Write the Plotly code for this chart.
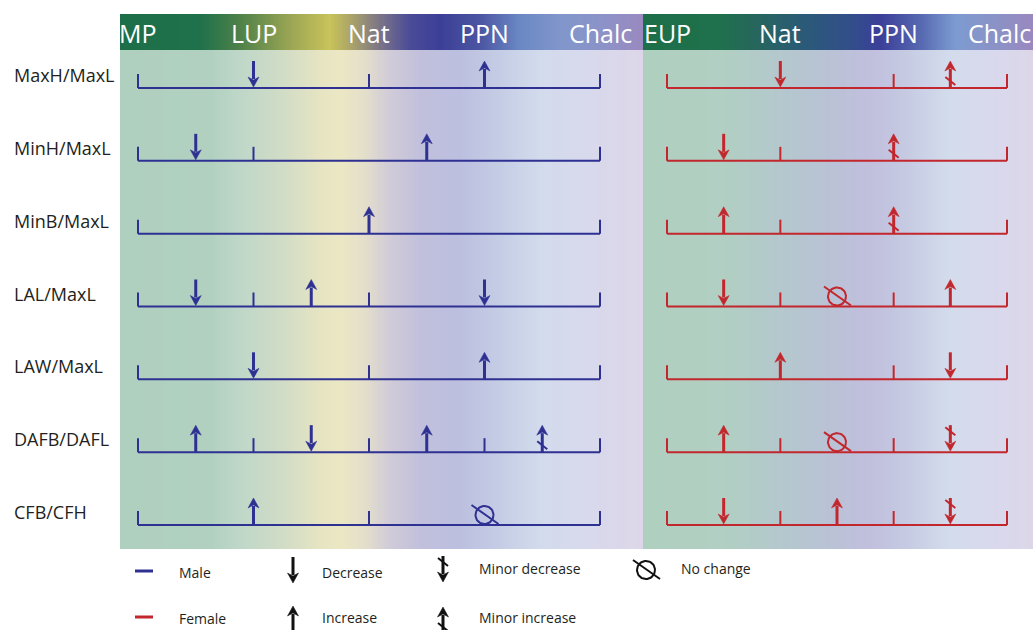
import numpy as np
import plotly.graph_objects as go

# ---------------- data ----------------
ratios = ["MaxH/MaxL", "MinH/MaxL", "MinB/MaxL", "LAL/MaxL",
          "LAW/MaxL", "DAFB/DAFL", "CFB/CFH"]
male_periods = ["MP", "LUP", "Nat", "PPN", "Chalc"]
female_periods = ["EUP", "Nat", "PPN", "Chalc"]

# (from period index, to period index, change)
male_changes = [
    [(0, 2, "decrease"), (2, 4, "increase")],
    [(0, 1, "decrease"), (1, 4, "increase")],
    [(0, 4, "increase")],
    [(0, 1, "decrease"), (1, 2, "increase"), (2, 4, "decrease")],
    [(0, 2, "decrease"), (2, 4, "increase")],
    [(0, 1, "increase"), (1, 2, "decrease"), (2, 3, "increase"), (3, 4, "minor increase")],
    [(0, 2, "increase"), (2, 4, "no change")],
]
female_changes = [
    [(0, 2, "decrease"), (2, 3, "minor increase")],
    [(0, 1, "decrease"), (1, 3, "minor increase")],
    [(0, 1, "increase"), (1, 3, "minor increase")],
    [(0, 1, "decrease"), (1, 2, "no change"), (2, 3, "increase")],
    [(0, 2, "increase"), (2, 3, "decrease")],
    [(0, 1, "increase"), (1, 2, "no change"), (2, 3, "minor decrease")],
    [(0, 1, "decrease"), (1, 2, "increase"), (2, 3, "minor decrease")],
]
sex_labels = ["Male", "Female"]
legend_rows = [["decrease", "minor decrease", "no change"],
               ["increase", "minor increase"]]
legend_texts = {"decrease": "Decrease", "increase": "Increase",
                "minor decrease": "Minor decrease", "minor increase": "Minor increase",
                "no change": "No change"}

# ---------------- geometry / style ----------------
W, H = 1033, 630
ROW_FIRST, ROW_LAST = 88, 525
HEADER_TOP, HEADER_BOT, BODY_BOT = 14, 50, 549
ys = (ROW_LAST - ROW_FIRST) / (len(ratios) - 1)
MALE_COL, FEMALE_COL = "#2e3192", "#c1272d"
FONT = "Open Sans"
TXT = "#231f20"

panels = {
    "x": dict(p0=120, p1=643, first=138, last=600, periods=male_periods,
              changes=male_changes, color=MALE_COL,
              head_stops=[(120, "#1d6f4a"), (200, "#1f714b"), (240, "#4f8148"), (290, "#9aa553"),
                          (330, "#c9c35a"), (355, "#a59e6e"), (380, "#7b7488"), (410, "#4a4b97"),
                          (440, "#3c3f97"), (480, "#4b55a2"), (520, "#6a88c4"), (560, "#8196cb"),
                          (600, "#8b93c8"), (643, "#9a89c0")],
              body_stops=[(120, "#afcfbf"), (210, "#b1d0c0"), (240, "#bfd7c8"), (280, "#d0dcc6"),
                          (320, "#e6e4c2"), (340, "#ece7c3"), (365, "#e4dfcb"), (390, "#d0cbd8"),
                          (420, "#c1c0dc"), (460, "#bcbfdf"), (500, "#c5cde5"), (540, "#d2dbec"),
                          (590, "#d8d9ec"), (643, "#ddd6e8")]),
    "x2": dict(p0=643, p1=W, first=667, last=1007, periods=female_periods,
               changes=female_changes, color=FEMALE_COL,
               head_stops=[(643, "#1d6f4a"), (720, "#1f704c"), (760, "#27655f"), (800, "#2a5b76"),
                           (850, "#324e8a"), (880, "#3b3f99"), (920, "#5668b0"), (955, "#7d9bd1"),
                           (1000, "#8c91c5"), (1033, "#9a88c0")],
               body_stops=[(643, "#afcfbf"), (720, "#b1cfc2"), (770, "#b3c9cb"), (820, "#b8c3d4"),
                           (870, "#c1bfdd"), (900, "#c4c8e1"), (950, "#d3dcec"), (1000, "#d9d8ec"),
                           (1033, "#ddd6e8")]),
}


def glyph(kind):
    """Return (lines, heads) in pixel offsets from (centre x, baseline)."""
    lines, heads = [], []
    if kind in ("increase", "minor increase"):
        lines.append(([(0, 0), (0, -19)], 3))
        heads.append([(0, -27), (-5.5, -17), (0, -20), (5.5, -17)])
        if kind == "minor increase":
            lines.append(([(-5, -11), (5, -3)], 2))
    elif kind in ("decrease", "minor decrease"):
        lines.append(([(0, -27), (0, -9)], 3))
        heads.append([(0, -1), (-5.5, -11), (0, -8), (5.5, -11)])
        if kind == "minor decrease":
            lines.append(([(-5, -25), (5, -17)], 2))
    elif kind == "no change":
        t = np.linspace(0, 2 * np.pi, 49)
        lines.append((list(zip(9 * np.cos(t), -10 + 9 * np.sin(t))), 2))
        lines.append(([(-13, -20), (14, -1)], 2))
    return lines, heads


def colorscale(stops):
    p0, p1 = stops[0][0], stops[-1][0]
    return [[(p - p0) / (p1 - p0), c] for p, c in stops]


fig = go.Figure()

# ---- background gradients ----
for ax, P in panels.items():
    sx = (P["last"] - P["first"]) / (len(P["periods"]) - 1)
    P["sx"] = sx
    n = 260
    edges_px = np.linspace(P["p0"], P["p1"], n + 1)
    centers = (edges_px[:-1] + edges_px[1:]) / 2
    zrow = (centers - P["p0"]) / (P["p1"] - P["p0"])
    xe = (edges_px - P["first"]) / sx
    for (t0, t1, stops) in [(HEADER_TOP, HEADER_BOT, P["head_stops"]),
                            (HEADER_BOT, BODY_BOT, P["body_stops"])]:
        fig.add_trace(go.Heatmap(
            x=xe, y=[(t0 - ROW_FIRST) / ys, (t1 - ROW_FIRST) / ys], z=[zrow],
            zmin=0, zmax=1, colorscale=colorscale(stops), showscale=False,
            hoverinfo="skip", xaxis=ax, yaxis="y"))


def add_glyph(store, kind, cx, cy, sxp, syp):
    lines, heads = glyph(kind)
    for pts, w in lines:
        xs, yy = store["lines"].setdefault(w, ([], []))
        xs.extend([cx + dx / sxp for dx, dy in pts] + [None])
        yy.extend([cy + dy / syp for dx, dy in pts] + [None])
    for pts in heads:
        store["hx"].extend([cx + dx / sxp for dx, dy in pts] + [cx + pts[0][0] / sxp, None])
        store["hy"].extend([cy + dy / syp for dx, dy in pts] + [cy + pts[0][1] / syp, None])


def flush(store, color, xa, ya):
    for w, (xs, yy) in store["lines"].items():
        fig.add_trace(go.Scatter(x=xs, y=yy, mode="lines", line=dict(color=color, width=w),
                                 hoverinfo="skip", showlegend=False, xaxis=xa, yaxis=ya))
    fig.add_trace(go.Scatter(x=store["hx"], y=store["hy"], mode="lines", fill="toself",
                             fillcolor=color, line=dict(color=color, width=0.5),
                             hoverinfo="skip", showlegend=False, xaxis=xa, yaxis=ya))


# ---- timelines ----
for ax, P in panels.items():
    sx = P["sx"]
    store = {"lines": {}, "hx": [], "hy": []}
    bx, by = [], []
    last = len(P["periods"]) - 1
    for r, segs in enumerate(P["changes"]):
        bx += [0, last, None]
        by += [r, r, None]
        ticks = sorted({s for s, e, k in segs} | {e for s, e, k in segs})
        for tk in ticks:
            bx += [tk, tk, None]
            by += [r, r - 14 / ys, None]
        for s, e, k in segs:
            add_glyph(store, k, (s + e) / 2, r, sx, ys)
    fig.add_trace(go.Scatter(x=bx, y=by, mode="lines", line=dict(color=P["color"], width=2),
                             hoverinfo="skip", showlegend=False, xaxis=ax, yaxis="y"))
    flush(store, P["color"], ax, "y")

# ---- legend (pixel axis) ----
LEG_Y = [571, 617]
lstore = {"lines": {}, "hx": [], "hy": []}
for i, (lab, col) in enumerate(zip(sex_labels, [MALE_COL, FEMALE_COL])):
    fig.add_trace(go.Scatter(x=[135, 153], y=[LEG_Y[i], LEG_Y[i]], mode="lines",
                             line=dict(color=col, width=3), hoverinfo="skip",
                             showlegend=False, xaxis="x3", yaxis="y2"))
leg_gx = [293, 443, 646]
leg_tx = [320, 477, 679]
leg_base = [[584, 583, 580], [633, 634]]
leg_ty = [[572, 568, 568], [617, 617]]
annotations = []
for i, row in enumerate(legend_rows):
    for j, kind in enumerate(row):
        add_glyph(lstore, kind, leg_gx[j], leg_base[i][j], 1, 1)
        annotations.append(dict(x=leg_tx[j], y=leg_ty[i][j], xref="x3", yref="y2",
                                text=legend_texts[kind], showarrow=False, xanchor="left",
                                font=dict(family=FONT, size=14, color=TXT)))
flush(lstore, "#111111", "x3", "y2")
for i, lab in enumerate(sex_labels):
    annotations.append(dict(x=177, y=LEG_Y[i] + 1, xref="x3", yref="y2", text=lab,
                            showarrow=False, xanchor="left",
                            font=dict(family=FONT, size=14, color=TXT)))

# ---- labels ----
for r, lab in enumerate(ratios):
    annotations.append(dict(x=12 / W, y=r - 13 / ys, xref="paper", yref="y", text=lab,
                            showarrow=False, xanchor="left",
                            font=dict(family=FONT, size=18, color=TXT)))
for ax, P in panels.items():
    n_p = len(P["periods"])
    for i, p in enumerate(P["periods"]):
        ann = dict(x=i, y=(33 - ROW_FIRST) / ys, xref=ax, yref="y", text=p,
                   showarrow=False, xanchor="center",
                   font=dict(family=FONT, size=25, color="white"))
        if ax == "x2" and i == n_p - 1:
            # last label of the right panel sits flush with the page edge
            ann.update(x=(P["p1"] - P["first"]) / P["sx"], xanchor="right")
        annotations.append(ann)

hid = dict(showgrid=False, zeroline=False, showticklabels=False, ticks="", showline=False,
           fixedrange=True)
Pm, Pf = panels["x"], panels["x2"]
fig.update_layout(
    width=W, height=H, margin=dict(l=0, r=0, t=0, b=0),
    paper_bgcolor="white", plot_bgcolor="rgba(0,0,0,0)", showlegend=False,
    xaxis=dict(domain=[Pm["p0"] / W, Pm["p1"] / W],
               range=[(Pm["p0"] - Pm["first"]) / Pm["sx"], (Pm["p1"] - Pm["first"]) / Pm["sx"]],
               anchor="y", **hid),
    xaxis2=dict(domain=[Pf["p0"] / W, Pf["p1"] / W],
                range=[(Pf["p0"] - Pf["first"]) / Pf["sx"], (Pf["p1"] - Pf["first"]) / Pf["sx"]],
                anchor="y", **hid),
    yaxis=dict(domain=[0, 1], range=[(H - ROW_FIRST) / ys, -ROW_FIRST / ys], anchor="x", **hid),
    xaxis3=dict(domain=[0, 1], range=[0, W], anchor="y2", **hid),
    yaxis2=dict(domain=[0, 1], range=[H, 0], anchor="x3", **hid),
    annotations=annotations,
)
fig.write_html("out.html", config={"displayModeBar": False},
               post_script="document.body.style.margin='0';document.body.style.overflow='hidden';")
